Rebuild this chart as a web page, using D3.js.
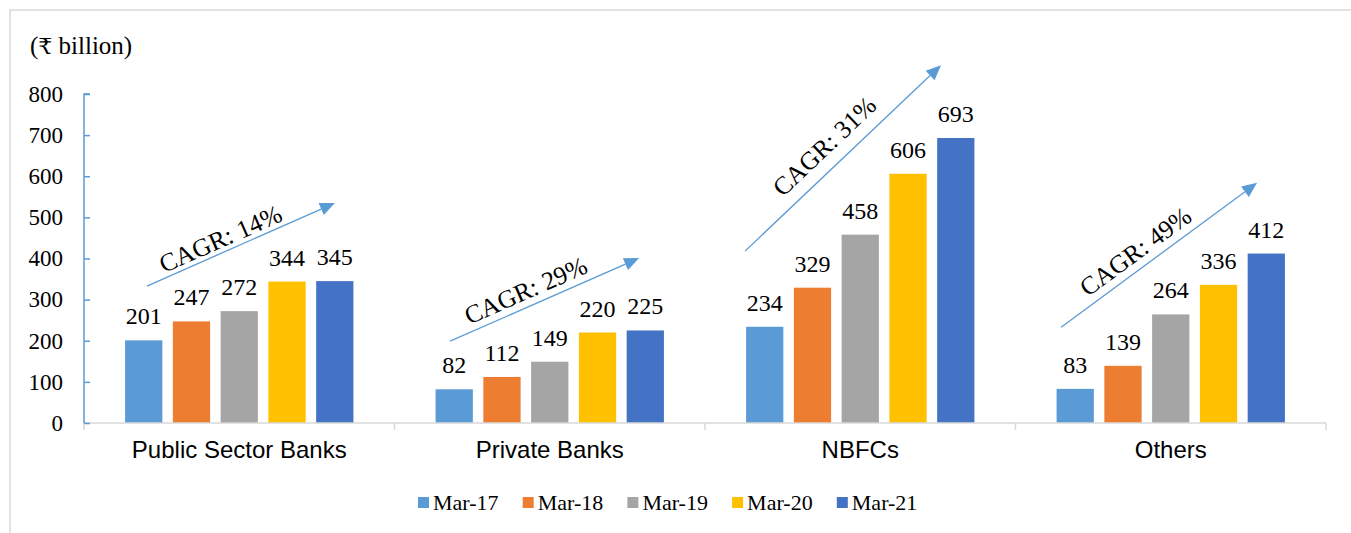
<!DOCTYPE html>
<html>
<head>
<meta charset="utf-8">
<script src="https://cdn.jsdelivr.net/npm/d3@7"></script>
<style>
  html, body { margin: 0; padding: 0; background: #fff; }
  svg { display: block; }
</style>
</head>
<body>
<svg id="chart" width="1351" height="533"></svg>
<script>
// Loans outstanding by lender type (₹ billion)
const categories = ["Public Sector Banks", "Private Banks", "NBFCs", "Others"];
const seriesNames = ["Mar-17", "Mar-18", "Mar-19", "Mar-20", "Mar-21"];
const mar17 = [201, 82, 234, 83];
const mar18 = [247, 112, 329, 139];
const mar19 = [272, 149, 458, 264];
const mar20 = [344, 220, 606, 336];
const mar21 = [345, 225, 693, 412];
const seriesValues = [mar17, mar18, mar19, mar20, mar21];
const yTicks = [0, 100, 200, 300, 400, 500, 600, 700, 800];
const colors = ["#5b9bd5", "#ed7d31", "#a5a5a5", "#ffc000", "#4472c4"];

// Growth arrows: start/end given as (fraction across category band, value)
const cagrLabels = ["CAGR: 14%", "CAGR: 29%", "CAGR: 31%", "CAGR: 49%"];
const arrowStart = [[0.203, 333], [0.179, 199], [0.129, 418], [0.147, 233]];
const arrowEnd = [[0.808, 535], [0.788, 401], [0.760, 870], [0.778, 584]];
const labelAlong = [0.42, 0.434, 0.48, 0.43];
const labelLift = [13, 15.5, 21, 16.4];

const svg = d3.select("#chart");
const serif = "'Liberation Serif', 'Times New Roman', serif";
const sans = "'Liberation Sans', Arial, sans-serif";

const plot = { left: 84, right: 1326, top: 94, bottom: 423 };

// outer frame
svg.append("rect")
  .attr("x", 10).attr("y", 10).attr("width", 1400).attr("height", 600)
  .attr("fill", "none").attr("stroke", "#d9d9d9").attr("stroke-width", 1.5);

const x0 = d3.scaleBand().domain(categories).range([plot.left, plot.right]).padding(0);
const x1 = d3.scaleBand().domain(seriesNames).range([0, x0.bandwidth()])
  .paddingInner(0.22).paddingOuter(0.86);
const y = d3.scaleLinear().domain([0, 800]).range([plot.bottom, plot.top]);

// unit label (rupee sign taken from a font that carries it)
const unit = svg.append("text")
  .attr("x", 30).attr("y", 54)
  .attr("font-family", serif).attr("font-size", 25).attr("fill", "#000");
unit.append("tspan").text("(");
unit.append("tspan").attr("font-family", "'DejaVu Serif', 'DejaVu Sans', serif").attr("font-size", 22).text("₹");
unit.append("tspan").text(" billion)");

// bars
const groups = svg.append("g").selectAll("g")
  .data(categories)
  .join("g")
  .attr("transform", d => `translate(${x0(d)},0)`);

groups.each(function (cat, ci) {
  const g = d3.select(this);
  const rows = seriesNames.map((s, si) => ({ s, si, v: seriesValues[si][ci] }));
  g.selectAll("rect").data(rows).join("rect")
    .attr("x", d => x1(d.s))
    .attr("y", d => y(d.v))
    .attr("width", x1.bandwidth())
    .attr("height", d => y(0) - y(d.v))
    .attr("fill", d => colors[d.si]);
  g.selectAll("text.val").data(rows).join("text")
    .attr("class", "val")
    .attr("x", d => x1(d.s) + x1.bandwidth() / 2)
    .attr("y", d => y(d.v) - 16)
    .attr("text-anchor", "middle")
    .attr("font-family", serif).attr("font-size", 24).attr("fill", "#000")
    .text(d => d.v);
});

// x axis
const xAxisG = svg.append("g");
xAxisG.append("line")
  .attr("x1", plot.left).attr("x2", plot.right)
  .attr("y1", y(0)).attr("y2", y(0))
  .attr("stroke", "#d9d9d9").attr("stroke-width", 1.5);
const bounds = categories.map(c => x0(c)).concat([x0(categories[categories.length - 1]) + x0.bandwidth()]);
xAxisG.selectAll("line.tk").data(bounds).join("line")
  .attr("class", "tk")
  .attr("x1", d => d).attr("x2", d => d)
  .attr("y1", y(0)).attr("y2", y(0) + 7)
  .attr("stroke", "#d9d9d9").attr("stroke-width", 1.5);
xAxisG.selectAll("text").data(categories).join("text")
  .attr("x", d => x0(d) + x0.bandwidth() / 2)
  .attr("y", 458)
  .attr("text-anchor", "middle")
  .attr("font-family", sans).attr("font-size", 24).attr("fill", "#000")
  .text(d => d);

// y axis
const yAxis = d3.axisRight(y).tickValues(yTicks).tickSize(6).tickFormat("");
const yAxisG = svg.append("g").attr("transform", `translate(${plot.left},0)`).call(yAxis);
yAxisG.select(".domain").attr("stroke", "#5b9bd5").attr("stroke-width", 1.5)
  .attr("d", `M6,${y(800)}H0V${y(0)}`);
yAxisG.selectAll(".tick line").attr("stroke", "#5b9bd5").attr("stroke-width", 1.5);
svg.append("g").selectAll("text").data(yTicks).join("text")
  .attr("x", 63).attr("y", d => y(d))
  .attr("dy", "0.34em")
  .attr("text-anchor", "end")
  .attr("font-family", serif).attr("font-size", 23).attr("fill", "#000")
  .text(d => d);

// growth arrows
const ann = svg.append("g");
categories.forEach((cat, i) => {
  const sx = x0(cat) + arrowStart[i][0] * x0.bandwidth();
  const sy = y(arrowStart[i][1]);
  const ex = x0(cat) + arrowEnd[i][0] * x0.bandwidth();
  const ey = y(arrowEnd[i][1]);
  const dx = ex - sx, dy = ey - sy;
  const len = Math.hypot(dx, dy);
  const ux = dx / len, uy = dy / len;
  const nx = uy, ny = -ux; // normal pointing up-left
  const headL = 15, headW = 6.5;
  const bx = ex - ux * headL, by = ey - uy * headL;
  ann.append("line")
    .attr("x1", sx).attr("y1", sy).attr("x2", bx).attr("y2", by)
    .attr("stroke", "#5b9bd5").attr("stroke-width", 1.3);
  ann.append("path")
    .attr("d", `M${ex},${ey}L${bx + nx * headW},${by + ny * headW}L${bx - nx * headW},${by - ny * headW}Z`)
    .attr("fill", "#5b9bd5");
  const cx = sx + ux * len * labelAlong[i] + nx * labelLift[i];
  const cy = sy + uy * len * labelAlong[i] + ny * labelLift[i];
  const ang = Math.atan2(dy, dx) * 180 / Math.PI;
  ann.append("text")
    .attr("transform", `translate(${cx},${cy}) rotate(${ang})`)
    .attr("text-anchor", "middle")
    .attr("dy", "0.32em")
    .attr("font-family", serif).attr("font-size", 25.5).attr("fill", "#000")
    .text(cagrLabels[i]);
});

// legend
const legend = svg.append("g").attr("transform", "translate(418,497)");
const li = legend.selectAll("g").data(seriesNames).join("g")
  .attr("transform", (d, i) => `translate(${i * 104.7},0)`);
li.append("rect").attr("width", 11).attr("height", 11).attr("fill", (d, i) => colors[i]);
li.append("text")
  .attr("x", 15).attr("y", 13)
  .attr("font-family", serif).attr("font-size", 22).attr("fill", "#000")
  .text(d => d);
</script>
</body>
</html>
